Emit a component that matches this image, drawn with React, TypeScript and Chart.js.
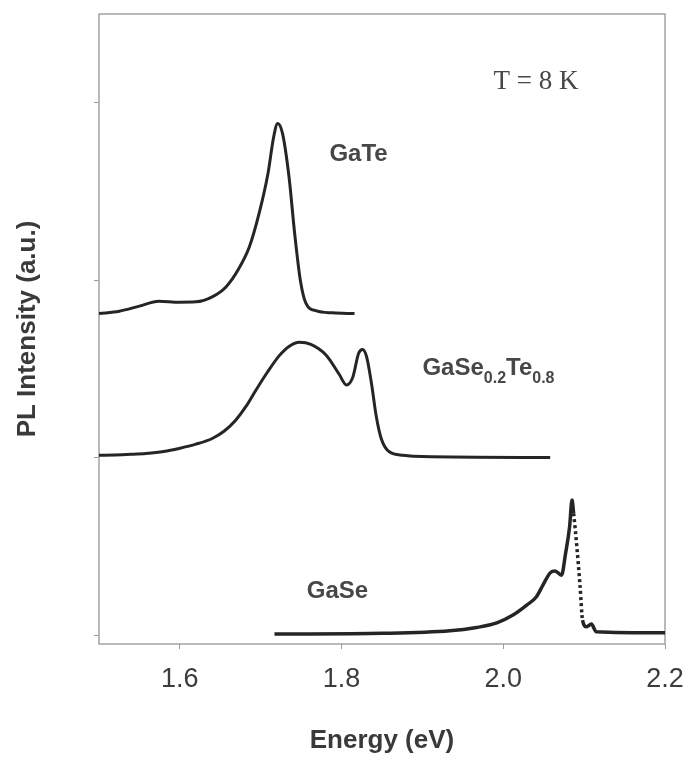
import React, { useEffect, useRef } from 'react';
import { Chart, registerables } from 'chart.js';

Chart.register(...registerables);

// ---- Data (energy in eV, PL intensity in arbitrary units, curves offset vertically) ----
const gaTeEnergy = [1.5, 1.525, 1.55, 1.574, 1.599, 1.62, 1.64, 1.657, 1.673, 1.686, 1.698, 1.709, 1.716, 1.721, 1.727, 1.735, 1.742, 1.749, 1.756, 1.769, 1.789, 1.816];
const gaTeIntensity = [1.812, 1.825, 1.854, 1.882, 1.876, 1.878, 1.906, 1.962, 2.066, 2.188, 2.376, 2.601, 2.807, 2.883, 2.826, 2.582, 2.263, 2.0, 1.869, 1.827, 1.816, 1.812];

const gaSeTeEnergy = [1.5, 1.52, 1.54, 1.558, 1.58, 1.599, 1.62, 1.64, 1.655, 1.669, 1.682, 1.694, 1.708, 1.723, 1.735, 1.748, 1.762, 1.781, 1.797, 1.806, 1.814, 1.821, 1.826, 1.831, 1.837, 1.843, 1.849, 1.859, 1.876, 1.9, 2.058];
const gaSeTeIntensity = [1.014, 1.015, 1.019, 1.024, 1.035, 1.052, 1.076, 1.108, 1.15, 1.211, 1.29, 1.38, 1.48, 1.575, 1.627, 1.65, 1.638, 1.577, 1.47, 1.41, 1.455, 1.587, 1.61, 1.568, 1.418, 1.23, 1.108, 1.033, 1.014, 1.006, 1.001];

const gaSeEnergy = [1.717, 1.851, 1.934, 1.967, 1.992, 2.012, 2.029, 2.041, 2.049, 2.058, 2.064, 2.072, 2.077, 2.082, 2.085, 2.087, 2.091, 2.095, 2.098, 2.103, 2.109, 2.115, 2.2];
const gaSeIntensity = [0.006, 0.01, 0.024, 0.043, 0.069, 0.113, 0.169, 0.216, 0.282, 0.351, 0.362, 0.338, 0.46, 0.61, 0.761, 0.686, 0.497, 0.272, 0.085, 0.047, 0.062, 0.019, 0.013];

const xTickValues = [1.6, 1.8, 2.0, 2.2];
const yTickValues = [0, 1, 2, 3];

const FONT = '"Liberation Sans", Arial, Helvetica, sans-serif';
const SERIF = '"Liberation Serif", "Times New Roman", serif';
const TEXT_COLOR = '#474747';

export default function App() {
  const ref = useRef<HTMLCanvasElement>(null);

  useEffect(() => {
    if (!ref.current) return;
    const toPts = (xs: number[], ys: number[]) => xs.map((x, i) => ({ x, y: ys[i] }));

    const frame = {
      id: 'frame',
      beforeDatasetsDraw(chart: any) {
        const { ctx, chartArea: a } = chart;
        ctx.save();
        ctx.strokeStyle = '#a3a3a3';
        ctx.lineWidth = 1.5;
        ctx.strokeRect(a.left, a.top, a.right - a.left, a.bottom - a.top);
        ctx.restore();
      },
    };

    const notes = {
      id: 'notes',
      afterDatasetsDraw(chart: any) {
        const { ctx, scales } = chart;
        const px = (e: number) => scales.x.getPixelForValue(e);
        const py = (v: number) => scales.y.getPixelForValue(v);
        ctx.save();
        ctx.fillStyle = TEXT_COLOR;
        ctx.textAlign = 'left';
        ctx.textBaseline = 'alphabetic';

        // T = 8 K
        ctx.font = `27px ${SERIF}`;
        ctx.fillText('T = 8 K', px(1.988), py(3.08));

        // GaTe
        ctx.font = `bold 24px ${FONT}`;
        ctx.fillText('GaTe', px(1.785), py(2.67));

        // GaSe0.2Te0.8 with subscripts
        let x = px(1.9);
        const y = py(1.465);
        const parts: [string, boolean][] = [['GaSe', false], ['0.2', true], ['Te', false], ['0.8', true]];
        for (const [t, sub] of parts) {
          ctx.font = sub ? `bold 16px ${FONT}` : `bold 24px ${FONT}`;
          ctx.fillText(t, x, sub ? y + 8 : y);
          x += ctx.measureText(t).width;
        }

        // GaSe
        ctx.font = `bold 24px ${FONT}`;
        ctx.fillText('GaSe', px(1.757), py(0.208));
        ctx.restore();
      },
    };

    const lineStyle = {
      borderColor: '#252525',
      backgroundColor: '#252525',
      pointRadius: 0,
      fill: false,
      cubicInterpolationMode: 'monotone' as const,
    };

    const chart = new Chart(ref.current, {
      type: 'line',
      data: {
        datasets: [
          { label: 'GaTe', data: toPts(gaTeEnergy, gaTeIntensity), borderWidth: 3, ...lineStyle },
          { label: 'GaSe0.2Te0.8', data: toPts(gaSeTeEnergy, gaSeTeIntensity), borderWidth: 3, ...lineStyle },
          {
            label: 'GaSe',
            data: toPts(gaSeEnergy, gaSeIntensity),
            borderWidth: 3.5,
            ...lineStyle,
            segment: {
              borderDash: (c: any) =>
                c.p0.parsed.x >= 2.087 && c.p1.parsed.x <= 2.098 ? [3, 3] : undefined,
            },
          },
        ],
      },
      options: {
        responsive: true,
        maintainAspectRatio: false,
        animation: false,
        layout: { padding: { top: 14, right: 22, left: 0, bottom: 0 } },
        plugins: { legend: { display: false }, tooltip: { enabled: false } },
        scales: {
          x: {
            type: 'linear',
            min: 1.5,
            max: 2.2,
            afterBuildTicks: (s: any) => {
              s.ticks = xTickValues.map((v) => ({ value: v }));
            },
            afterFit: (s: any) => {
              s.height = 115;
              s.paddingLeft = 0;
              s.paddingRight = 0;
            },
            grid: { drawOnChartArea: false, drawTicks: true, tickLength: 5, color: '#9a9a9a' },
            border: { display: false },
            ticks: {
              autoSkip: false,
              maxRotation: 0,
              padding: 14,
              color: '#3c3c3c',
              font: { family: FONT, size: 27 },
              callback: (v: any) => Number(v).toFixed(1),
            },
            title: {
              display: true,
              text: 'Energy (eV)',
              color: '#3a3a3a',
              font: { family: FONT, size: 26, weight: 'bold' },
              padding: { top: 0, bottom: 3 },
            },
          },
          y: {
            type: 'linear',
            min: -0.05,
            max: 3.5,
            afterBuildTicks: (s: any) => {
              s.ticks = yTickValues.map((v) => ({ value: v }));
            },
            afterFit: (s: any) => {
              s.width = 99;
              s.paddingTop = 0;
              s.paddingBottom = 0;
            },
            grid: { drawOnChartArea: false, drawTicks: true, tickLength: 5, color: '#9a9a9a' },
            border: { display: false },
            ticks: { display: false },
            title: {
              display: true,
              text: 'PL Intensity (a.u.)',
              color: '#3a3a3a',
              font: { family: FONT, size: 26, weight: 'bold' },
              padding: { top: 12, bottom: 0 },
            },
          },
        },
      },
      plugins: [frame, notes],
    });
    return () => chart.destroy();
  }, []);

  return (
    <div style={{ position: 'fixed', left: 0, top: 0, width: 687, height: 759, background: '#fff' }}>
      <canvas ref={ref} />
    </div>
  );
}
